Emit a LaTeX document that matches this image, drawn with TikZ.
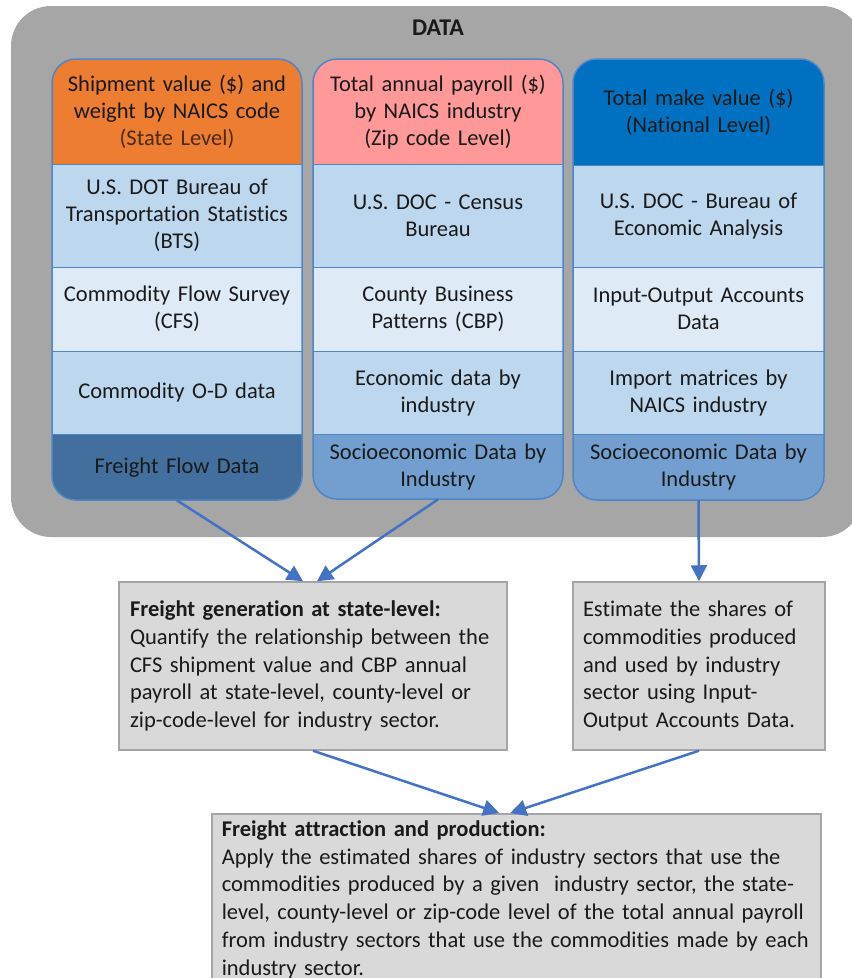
\documentclass[tikz,border=0pt]{standalone}
\usepackage{fontspec}
\setmainfont{Carlito}[Ligatures={TeX,NoCommon}]
\usetikzlibrary{arrows.meta,calc}
\definecolor{outergray}{HTML}{A6A6A6}
\definecolor{hdorange}{HTML}{ED7D31}
\definecolor{hdpink}{HTML}{FF9999}
\definecolor{hdblue}{HTML}{0070C0}
\definecolor{rowA}{HTML}{BDD7EE}
\definecolor{rowB}{HTML}{DEEBF7}
\definecolor{rowdark}{HTML}{426F9E}
\definecolor{rowmid}{HTML}{729FCF}
\definecolor{colborder}{HTML}{4F86C6}
\definecolor{brownish}{HTML}{4D2A14}
\definecolor{procfill}{HTML}{D9D9D9}
\definecolor{procdraw}{HTML}{A5A5A5}
\definecolor{arrowblue}{HTML}{4472C4}
\definecolor{txt}{HTML}{1A1A1A}
\tikzset{
  cell/.style={rectangle, inner sep=0pt, minimum width=250pt, text width=246pt,
    align=center, anchor=north, text=txt, font=\fontsize{22.5}{27}\selectfont},
  colframe/.style={draw=colborder, line width=1.5pt, rounded corners=24pt},
  sepline/.style={draw=colborder, line width=1.3pt},
  proc/.style={rectangle, fill=procfill, draw=procdraw, line width=1.5pt,
    align=left, text=txt, font=\fontsize{22.5}{27.7}\selectfont},
  arr/.style={draw=arrowblue, line width=2.5pt,
    -{Triangle[length=16pt,width=16pt]}}
}
\begin{document}
\begin{tikzpicture}[x=1pt,y=-1pt]
\useasboundingbox (0,0) rectangle (852,978);
\fill[white] (0,0) rectangle (852,978);
% outer data panel
\fill[outergray, rounded corners=40pt] (11,6) rectangle (862,537);
\node[font=\bfseries\fontsize{24}{28}\selectfont, text=txt] (title) at (438,28) {DATA};

% ---------- column 1 ----------
\begin{scope}
\clip[rounded corners=24pt] (52,59) rectangle (302,500);
\node[cell, fill=hdorange, minimum height=105pt] (h1) at (177,59)
  {Shipment value (\$) and\\weight by NAICS code\\{\color{brownish}(State Level)}};
\node[cell, fill=rowA, minimum height=103pt] (b1) at (177,164)
  {U.S. DOT Bureau of\\Transportation Statistics\\(BTS)};
\node[cell, fill=rowB, minimum height=84pt] (c1) at (177,267)
  {Commodity Flow Survey\\(CFS)};
\node[cell, fill=rowA, minimum height=83pt] (d1) at (177,351)
  {Commodity O-D data};
\node[cell, fill=rowdark, minimum height=66pt] (ff) at (177,434)
  {Freight Flow Data};
\end{scope}
\draw[colframe] (52,59) rectangle (302,500);
\foreach \n in {h1,b1,c1,d1} \draw[sepline] (\n.south west) -- (\n.south east);

% ---------- column 2 ----------
\begin{scope}
\clip[rounded corners=24pt] (313,59) rectangle (563,499);
\node[cell, fill=hdpink, minimum height=105pt] (h2) at (438,59)
  {Total annual payroll (\$)\\by NAICS industry\\(Zip code Level)};
\node[cell, fill=rowA, minimum height=103pt] (b2) at (438,164)
  {U.S. DOC - Census\\Bureau};
\node[cell, fill=rowB, minimum height=84pt] (c2) at (438,267)
  {County Business\\Patterns (CBP)};
\node[cell, fill=rowA, minimum height=83pt] (d2) at (438,351)
  {Economic data by\\industry};
\node[cell, fill=rowmid, minimum height=65pt] (se2) at (438,434)
  {Socioeconomic Data by\\Industry};
\end{scope}
\draw[colframe] (313,59) rectangle (563,499);
\foreach \n in {h2,b2,c2,d2} \draw[sepline] (\n.south west) -- (\n.south east);

% ---------- column 3 ----------
\begin{scope}
\clip[rounded corners=24pt] (573,59) rectangle (824,500);
\node[cell, fill=hdblue, minimum width=251pt, minimum height=106pt] (h3) at (698.5,59)
  {Total make value (\$)\\(National Level)};
\node[cell, fill=rowA, minimum width=251pt, minimum height=102pt] (b3) at (698.5,165)
  {U.S. DOC - Bureau of\\Economic Analysis};
\node[cell, fill=rowB, minimum width=251pt, minimum height=84pt] (c3) at (698.5,267)
  {Input-Output Accounts\\Data};
\node[cell, fill=rowA, minimum width=251pt, minimum height=83pt] (d3) at (698.5,351)
  {Import matrices by\\NAICS industry};
\node[cell, fill=rowmid, minimum width=251pt, minimum height=66pt] (se3) at (698.5,434)
  {Socioeconomic Data by\\Industry};
\end{scope}
\draw[colframe] (573,59) rectangle (824,500);
\foreach \n in {h3,b3,c3,d3} \draw[sepline] (\n.south west) -- (\n.south east);

% ---------- process boxes ----------
\node[proc, minimum width=388pt, minimum height=168pt, text width=366pt,
  inner xsep=11pt] (gen) at (313,666)
  {\textbf{Freight generation at state-level:}\\
   Quantify the relationship between the\\
   CFS shipment value and CBP annual\\
   payroll at state-level, county-level or\\
   zip-code-level for industry sector.};
\node[proc, minimum width=252pt, minimum height=168pt, text width=232pt,
  inner xsep=10pt] (est) at (699,666)
  {Estimate the shares of\\
   commodities produced\\
   and used by industry\\
   sector using Input-\\
   Output Accounts Data.};
\node[proc, anchor=north west, minimum width=609pt,
  text width=589pt, inner xsep=10pt, inner ysep=7pt] (fin) at (211,813)
  {\textbf{Freight attraction and production:}\\
   Apply the estimated shares of industry sectors that use the\\
   commodities produced by a given~ industry sector, the state-\\
   level, county-level or zip-code level of the total annual payroll\\
   from industry sectors that use the commodities made by each\\
   industry sector.};

% ---------- connectors ----------
\draw[arr] (ff.south) -- ([xshift=-10pt]gen.north);
\draw[arr] (se2.south) -- ([xshift=4pt]gen.north);
\draw[arr] (se3.south) -- (est.north);
\draw[arr] (gen.south) -- ([xshift=-17pt]fin.north);
\draw[arr] (est.south) -- ([xshift=-6pt]fin.north);
\end{tikzpicture}
\end{document}
